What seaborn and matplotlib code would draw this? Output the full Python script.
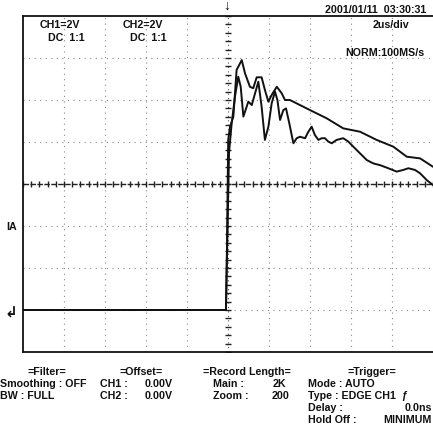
import numpy as np
import pandas as pd
import matplotlib
matplotlib.use("Agg")
import matplotlib.pyplot as plt
import seaborn as sns

# ---- data (time in us, voltage in V; 2us/div, 2V/div) ----
ch1_t = [-10, -0.1, -0.05, 0.01, 0.10, 0.26, 0.42, 0.59, 0.67, 0.83, 1.07, 1.23, 1.40, 1.64,
         1.80, 1.97, 2.13, 2.38, 2.62, 2.78, 3.02, 3.51, 4.0, 4.81, 5.62, 6.44, 7.25, 8.06,
         8.72, 9.37, 10.0]
ch1_v = [-6, -6, -3, 2.10, 2.73, 3.20, 5.43, 5.75, 5.90, 5.27, 4.63, 4.56, 5.08, 5.08,
         4.48, 3.92, 4.24, 4.63, 4.32, 4.0, 4.0, 3.76, 3.52, 3.13, 2.65, 2.49, 2.10, 1.78,
         1.30, 1.22, 0.82]
ch2_t = [-10, -0.1, 0.0, 0.05, 0.18, 0.34, 0.50, 0.62, 0.75, 0.91, 0.99, 1.16, 1.32, 1.48,
         1.64, 1.80, 1.97, 2.13, 2.29, 2.41, 2.54, 2.70, 2.83, 2.99, 3.19, 3.35, 3.51, 3.76,
         3.92, 4.08, 4.24, 4.41, 4.57, 4.73, 4.89, 5.06, 5.30, 5.62, 5.87, 6.11, 6.44, 6.77,
         7.09, 7.41, 7.82, 8.23, 8.55, 8.80, 9.12, 9.37, 9.69, 10.0]
ch2_v = [-6, -6, -1.0, 1.5, 2.89, 4.16, 5.11, 4.63, 3.21, 3.68, 3.92, 3.76, 4.32, 4.87,
         3.68, 2.10, 2.73, 3.84, 4.40, 4.0, 3.05, 3.52, 3.60, 2.89, 1.94, 2.18, 2.25, 2.18,
         2.49, 2.73, 2.33, 2.10, 2.18, 2.18, 2.02, 1.94, 2.10, 2.18, 2.02, 1.78, 1.46, 1.14,
         0.98, 0.90, 0.75, 0.59, 0.67, 0.75, 0.67, 0.51, 0.19, -0.05]

header_texts = [("CH1=2V", 40, 25), ("DC  1:1", 48, 38), ("CH2=2V", 123, 25), ("DC  1:1", 130, 38),
                ("2001/01/11  03:30:31", 325, 10), ("2us/div", 373, 25), ("NORM:100MS/s", 345, 53)]
footer_texts = [("=Filter=", 27, 372), ("Smoothing : OFF", 0, 384), ("BW : FULL", 0, 396),
                ("=Offset=", 120, 372), ("CH1 :", 100, 384), ("0.00V", 145, 384),
                ("CH2 :", 100, 396), ("0.00V", 145, 396),
                ("=Record Length=", 203, 372), ("Main :", 213, 384), ("2K", 273, 384),
                ("Zoom :", 213, 396), ("200", 272, 396),
                ("=Trigger=", 348, 372), ("Mode : AUTO", 308, 384), ("Type : EDGE CH1  ƒ", 308, 396),
                ("Delay :", 308, 408), ("Hold Off :", 308, 420)]
right_texts = [("0.0ns", 432, 408), ("MINIMUM", 432, 420)]

df = pd.concat([
    pd.DataFrame({"t": ch1_t, "v": ch1_v, "ch": "CH1"}),
    pd.DataFrame({"t": ch2_t, "v": ch2_v, "ch": "CH2"}),
])

sns.set_theme(style="white")
plt.rcParams['font.family'] = ['Liberation Sans', 'DejaVu Sans']

W, H = 433, 438
fig = plt.figure(figsize=(W / 100, H / 100), dpi=100)
fig.patch.set_facecolor("white")
ax = fig.add_axes([23 / W, (H - 352) / H, 410 / W, 336 / H])

sns.lineplot(data=df, x="t", y="v", hue="ch", palette={"CH1": "#111111", "CH2": "#111111"},
             sort=False, estimator=None, legend=False, linewidth=1.4, ax=ax, zorder=5)

ax.set_xlim(-10, 10)
ax.set_ylim(-8, 8)
ax.set_xticks([]); ax.set_yticks([])
ax.set_xlabel(""); ax.set_ylabel("")
for s in ["left", "top", "bottom"]:
    ax.spines[s].set_visible(True)
    ax.spines[s].set_color("#111111")
    ax.spines[s].set_linewidth(1.3)
ax.spines["right"].set_visible(False)

# graticule
for x in np.arange(-8, 9, 2):
    if x != 0:
        ax.axvline(x, color="#8a8a8a", lw=0.8, ls=(0, (1, 4)), zorder=1)
for y in np.arange(-6, 7, 2):
    if y != 0:
        ax.axhline(y, color="#8a8a8a", lw=0.8, ls=(0, (1, 4)), zorder=1)
ax.axhline(0, color="#222222", lw=1.0, ls=(0, (4, 1)), zorder=2)
ax.axvline(0, color="#555555", lw=0.8, ls=(0, (1, 3)), zorder=2)
xt = np.arange(-10, 10.01, 0.4)
ax.plot(xt, np.zeros_like(xt), ls="none", marker="|", ms=4, mew=1.0, color="#222222", zorder=2)
yt = np.arange(-8, 8.01, 0.4)
ax.plot(np.zeros_like(yt), yt, ls="none", marker="_", ms=4, mew=1.0, color="#222222", zorder=2)

def ftxt(s, x, y, ha="left", size=7.7):
    fig.text(x / W, 1 - y / H, s, ha=ha, va="center", fontsize=size, fontweight="bold",
             color="#111111")

for s, x, y in header_texts + footer_texts:
    ftxt(s, x, y)
for s, x, y in right_texts:
    ftxt(s, x, y, ha="right")

# markers
ftxt("↓", 223, 6, size=10)
ftxt("IA", 6, 227)
ftxt("↲", 4, 313, size=11)

fig.savefig("out.png", dpi=100, facecolor="white")
